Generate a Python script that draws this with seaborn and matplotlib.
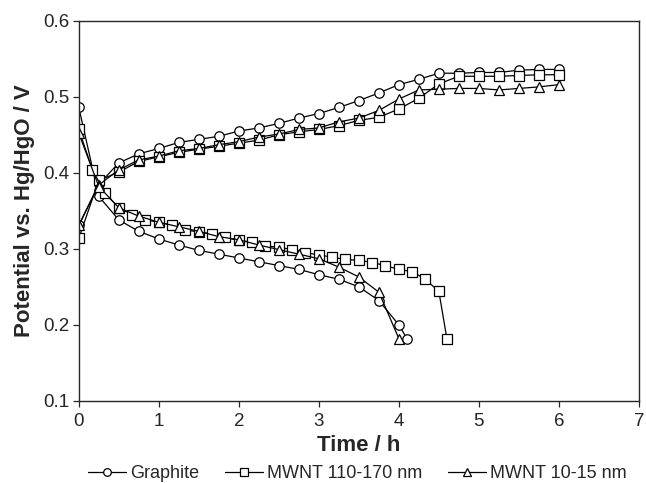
import pandas as pd
import seaborn as sns
import matplotlib
matplotlib.use("Agg")
import matplotlib.pyplot as plt
from matplotlib.lines import Line2D

# charge curves, every 0.25 h
t_charge = [0, 0.25, 0.5, 0.75, 1.0, 1.25, 1.5, 1.75, 2.0, 2.25, 2.5, 2.75, 3.0,
            3.25, 3.5, 3.75, 4.0, 4.25, 4.5, 4.75, 5.0, 5.25, 5.5, 5.75, 6.0]
graphite_charge = [0.331, 0.385, 0.413, 0.425, 0.432, 0.440, 0.444, 0.448, 0.455,
                   0.459, 0.465, 0.472, 0.478, 0.486, 0.495, 0.505, 0.516, 0.523,
                   0.531, 0.531, 0.532, 0.532, 0.535, 0.536, 0.536]
mwnt110_charge = [0.314, 0.390, 0.401, 0.415, 0.421, 0.427, 0.431, 0.435, 0.439,
                  0.443, 0.450, 0.454, 0.457, 0.462, 0.469, 0.473, 0.484, 0.498,
                  0.517, 0.527, 0.527, 0.527, 0.528, 0.529, 0.529]
mwnt10_charge = [0.331, 0.384, 0.404, 0.417, 0.422, 0.429, 0.432, 0.437, 0.441,
                 0.447, 0.451, 0.457, 0.459, 0.467, 0.472, 0.482, 0.497, 0.509,
                 0.510, 0.511, 0.511, 0.509, 0.511, 0.513, 0.516]

# discharge curves
t_graphite_dis = [0, 0.25, 0.5, 0.75, 1.0, 1.25, 1.5, 1.75, 2.0, 2.25, 2.5, 2.75,
                  3.0, 3.25, 3.5, 3.75, 4.0, 4.1]
graphite_dis = [0.486, 0.369, 0.338, 0.323, 0.313, 0.305, 0.298, 0.293, 0.288,
                0.283, 0.278, 0.273, 0.266, 0.260, 0.250, 0.232, 0.200, 0.182]
t_mwnt110_dis = [0, 0.17, 0.33, 0.5, 0.67, 0.83, 1.0, 1.17, 1.33, 1.5, 1.67, 1.83,
                 2.0, 2.17, 2.33, 2.5, 2.67, 2.83, 3.0, 3.17, 3.33, 3.5, 3.67,
                 3.83, 4.0, 4.17, 4.33, 4.5, 4.6]
mwnt110_dis = [0.457, 0.404, 0.373, 0.354, 0.345, 0.338, 0.335, 0.331, 0.325,
               0.322, 0.320, 0.315, 0.311, 0.309, 0.304, 0.302, 0.299, 0.295,
               0.292, 0.289, 0.286, 0.285, 0.282, 0.278, 0.273, 0.270, 0.260,
               0.244, 0.182]
t_mwnt10_dis = [0, 0.25, 0.5, 0.75, 1.0, 1.25, 1.5, 1.75, 2.0, 2.25, 2.5, 2.75,
                3.0, 3.25, 3.5, 3.75, 4.0]
mwnt10_dis = [0.452, 0.382, 0.354, 0.343, 0.335, 0.329, 0.323, 0.316, 0.312,
              0.305, 0.299, 0.293, 0.287, 0.276, 0.263, 0.243, 0.182]

materials = ["Graphite", "MWNT 110-170 nm", "MWNT 10-15 nm"]
marker_map = {"Graphite": "o", "MWNT 110-170 nm": "s", "MWNT 10-15 nm": "^"}

rows = []
for name, tc, vc, td, vd in [
    ("Graphite", t_charge, graphite_charge, t_graphite_dis, graphite_dis),
    ("MWNT 110-170 nm", t_charge, mwnt110_charge, t_mwnt110_dis, mwnt110_dis),
    ("MWNT 10-15 nm", t_charge, mwnt10_charge, t_mwnt10_dis, mwnt10_dis),
]:
    rows += [(name, "charge", t, v) for t, v in zip(tc, vc)]
    rows += [(name, "discharge", t, v) for t, v in zip(td, vd)]
df = pd.DataFrame(rows, columns=["material", "branch", "time", "potential"])

sns.set_style("ticks")
plt.rcParams["font.family"] = ["Liberation Sans", "DejaVu Sans"]

fig = plt.figure(figsize=(6.46, 4.83), dpi=100)
ax = fig.add_axes([0.122, 0.170, 0.867, 0.787])

for name in materials:
    sns.lineplot(data=df[df.material == name], x="time", y="potential",
                 units="branch", estimator=None, ax=ax, color="black",
                 marker=marker_map[name], markersize=6.8, mfc="white",
                 mec="black", mew=0.9, lw=0.9, legend=False)

ax.set_xlim(0, 7)
ax.set_ylim(0.1, 0.6)
ax.set_xticks(range(0, 8))
ax.set_yticks([0.1, 0.2, 0.3, 0.4, 0.5, 0.6])
ax.set_yticklabels(["0.1", "0.2", "0.3", "0.4", "0.5", "0.6"])
ax.tick_params(labelsize=13.5, length=4, width=0.9, direction="out", pad=3)
ax.tick_params(axis="x", pad=5)
for s in ax.spines.values():
    s.set_linewidth(1.0)
ax.set_xlabel("Time / h", fontsize=16, fontweight="bold", labelpad=3)
ax.set_ylabel("Potential vs. Hg/HgO / V", fontsize=16, fontweight="bold", labelpad=6)

handles = [Line2D([], [], color="black", lw=0.9, marker=marker_map[m], markersize=5.5,
                  mfc="white", mec="black", mew=0.9) for m in materials]
fig.legend(handles, materials, loc="center", bbox_to_anchor=(0.553, 0.020), ncol=3,
           frameon=False, fontsize=13, handlelength=2.1, handletextpad=0.2,
           columnspacing=1.45, borderpad=0)

fig.savefig("out.png", dpi=100)
